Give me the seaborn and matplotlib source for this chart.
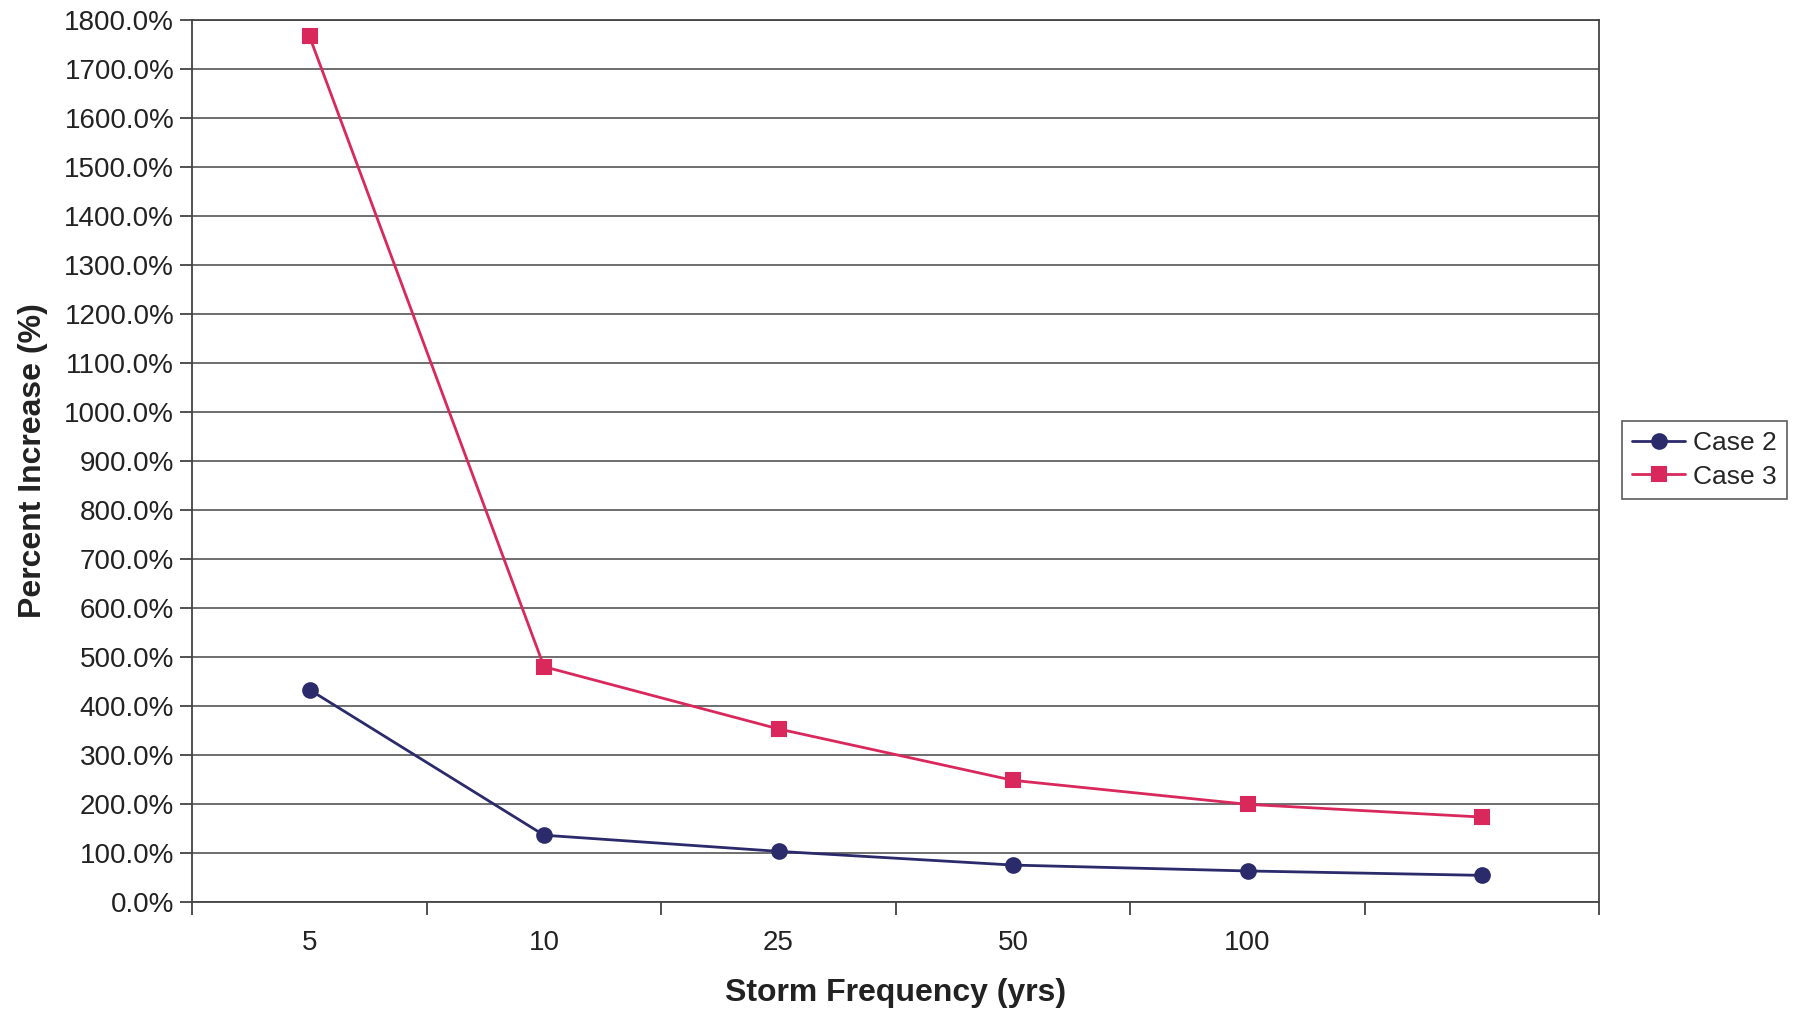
import matplotlib
matplotlib.use("Agg")
import matplotlib.pyplot as plt
import seaborn as sns
import pandas as pd
from matplotlib.ticker import FixedLocator, FuncFormatter, MultipleLocator

categories = ["5", "10", "25", "50", "100", "500"]
tick_labels = ["5", "10", "25", "50", "100", ""]
case2 = [433, 136, 103, 75, 63, 54]
case3 = [1767, 480, 353, 248, 199, 173]
series_names = ["Case 2", "Case 3"]

df = pd.DataFrame({
    "freq": categories * 2,
    "pct": case2 + case3,
    "case": [series_names[0]] * len(categories) + [series_names[1]] * len(categories),
})

sns.set_theme(style="white")
plt.rcParams["font.family"] = ["Liberation Sans", "DejaVu Sans"]

fig = plt.figure(figsize=(17.97, 10.11), dpi=100)
ax = fig.add_axes([0.107, 0.108, 0.783, 0.872])

sns.pointplot(data=df, x="freq", y="pct", hue="case", order=categories,
              palette={"Case 2": "#2b2a6b", "Case 3": "#d9285c"},
              markers=["o", "s"], linestyles=["-", "-"], errorbar=None,
              markersize=10.5, linewidth=2.0, ax=ax, legend=True)

ax.set_xlim(-0.5, len(categories) - 0.5)
ax.set_ylim(0, 1800)
ax.yaxis.set_major_locator(MultipleLocator(100))
ax.yaxis.set_major_formatter(FuncFormatter(lambda v, p: f"{v:.1f}%"))
ax.grid(axis="y", color="#555555", linewidth=1.2)
ax.grid(axis="x", visible=False)
ax.set_axisbelow(True)

ax.set_xticks(range(len(categories)))
ax.set_xticklabels(tick_labels)
ax.xaxis.set_minor_locator(FixedLocator([i - 0.5 for i in range(len(categories) + 1)]))
ax.tick_params(axis="x", which="major", length=0, labelsize=20, pad=20, colors="#222222")
ax.tick_params(axis="x", which="minor", length=9, width=1.2, color="#333333", direction="out", bottom=True)
ax.tick_params(axis="y", which="major", length=9, width=1.2, color="#333333", direction="out",
               labelsize=20, left=True, pad=4)
ax.tick_params(axis="y", colors="#333333", labelcolor="#222222")

for s in ["left", "bottom", "right", "top"]:
    ax.spines[s].set_visible(True)
    ax.spines[s].set_color("#444444")
    ax.spines[s].set_linewidth(1.3)

ax.set_xlabel("Storm Frequency (yrs)", fontsize=23, fontweight="bold", color="#222222", labelpad=16)
ax.set_ylabel("Percent Increase (%)", fontsize=23, fontweight="bold", color="#222222", labelpad=12)

handles, labels = ax.get_legend_handles_labels()
ax.legend_.remove()
leg = fig.legend(handles, labels, loc="center left", bbox_to_anchor=(0.9025, 0.545),
                 fontsize=19, frameon=True, fancybox=False, edgecolor="#333333",
                 handlelength=2.0, handletextpad=0.3, borderpad=0.4, labelspacing=0.35,
                 borderaxespad=0)
leg.get_frame().set_linewidth(1.2)

fig.savefig("out.png", dpi=100)
